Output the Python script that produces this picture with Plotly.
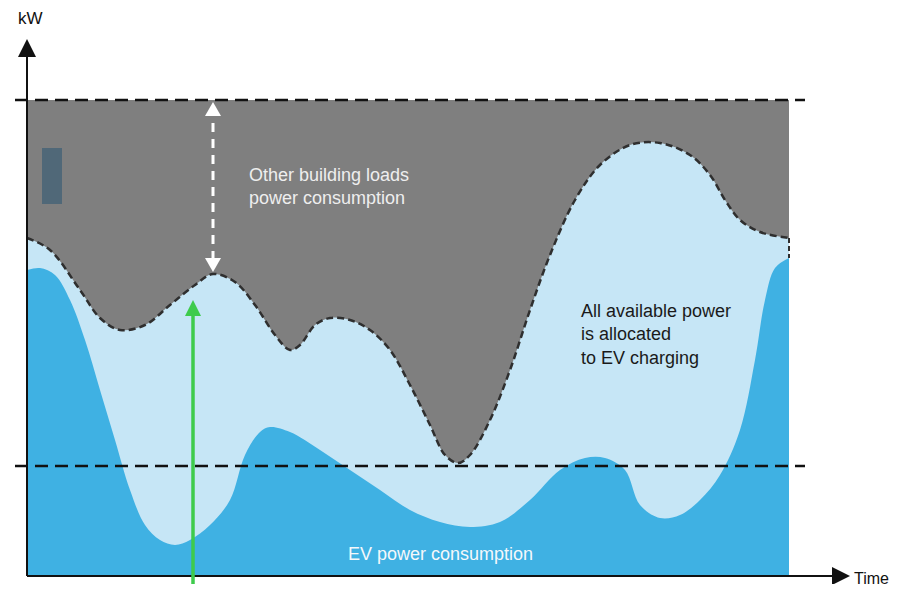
import plotly.graph_objects as go

# ---- data (time in arbitrary units, power in kW-like units) ----
time = [0, 23, 53, 73, 93, 118, 143, 168, 186, 208, 228, 248, 263, 273, 288, 303, 323, 343,
        363, 383, 403, 418, 431, 443, 463, 483, 503, 523, 548, 573, 603, 633, 663, 683, 698,
        713, 733, 762]
available_kw = [338, 326, 286, 258, 246, 251, 271, 291, 302, 294, 271, 241, 226, 231, 251,
                258, 256, 246, 226, 191, 151, 121, 113, 121, 156, 206, 266, 321, 376, 411,
                431, 433, 421, 401, 376, 356, 344, 338]

ev_time = [0, 13, 28, 43, 58, 73, 88, 103, 118, 133, 148, 163, 183, 203, 218, 233, 243, 263,
           293, 323, 353, 383, 413, 443, 473, 503, 533, 558, 578, 598, 613, 633, 653, 673,
           693, 713, 728, 738, 748, 762]
ev_kw = [306, 308, 301, 276, 236, 186, 136, 86, 51, 36, 31, 36, 51, 76, 121, 144, 149, 144,
         126, 106, 86, 66, 54, 49, 54, 76, 106, 118, 118, 106, 71, 58, 61, 76, 101, 146, 216,
         276, 308, 318]

grid_limit_kw = 476
min_level_kw = 110
t_end = 762

font = "Arial, 'Liberation Sans', sans-serif"
GRAY = "#7f7f7f"
LIGHT = "#c6e6f6"
BLUE = "#3fb1e3"

fig = go.Figure()
# building loads (gray) up to grid limit
fig.add_trace(go.Scatter(x=[0, t_end], y=[grid_limit_kw, grid_limit_kw], mode="lines",
                         line=dict(width=0), fill="tozeroy", fillcolor=GRAY, hoverinfo="skip"))
# available power (light blue)
fig.add_trace(go.Scatter(x=time, y=available_kw, mode="lines", line=dict(width=0, shape="spline", smoothing=1.0),
                         fill="tozeroy", fillcolor=LIGHT, hoverinfo="skip"))
# EV power consumption
fig.add_trace(go.Scatter(x=ev_time, y=ev_kw, mode="lines", line=dict(width=0, shape="spline", smoothing=1.0),
                         fill="tozeroy", fillcolor=BLUE, hoverinfo="skip"))
# dashed boundary curve
fig.add_trace(go.Scatter(x=time, y=available_kw, mode="lines",
                         line=dict(color="#2f2f2f", width=2.5, dash="7px,4px", shape="spline", smoothing=1.0),
                         hoverinfo="skip"))
# right edge dashed
fig.add_trace(go.Scatter(x=[t_end, t_end], y=[available_kw[-1], ev_kw[-1]], mode="lines",
                         line=dict(color="#2f2f2f", width=2, dash="5px,3px"), hoverinfo="skip"))

# horizontal dashed reference lines
for lvl in (grid_limit_kw, min_level_kw):
    fig.add_trace(go.Scatter(x=[-12, 778], y=[lvl, lvl], mode="lines",
                             line=dict(color="#111111", width=2.5, dash="13px,7px"), hoverinfo="skip"))

shapes = []
# axes
shapes.append(dict(type="line", x0=0, x1=0, y0=0, y1=522, line=dict(color="#111", width=2)))
shapes.append(dict(type="line", x0=0, x1=808, y0=0, y1=0, line=dict(color="#111", width=2)))
shapes.append(dict(type="path", path="M -9,519 L 9,519 L 0,537 Z", fillcolor="#111", line=dict(width=0)))
shapes.append(dict(type="path", path="M 805,-9 L 805,9 L 823,0 Z", fillcolor="#111", line=dict(width=0)))
# small dark marker rectangle
shapes.append(dict(type="rect", x0=15, x1=35, y0=372, y1=428, fillcolor="#506878", line=dict(width=0)))
# white dashed double arrow
peak_t = 186
peak_kw = 302
shapes.append(dict(type="line", x0=peak_t, x1=peak_t, y0=peak_kw + 14, y1=grid_limit_kw - 14,
                   line=dict(color="white", width=3, dash="9px,7px")))
shapes.append(dict(type="path", path=f"M {peak_t-8},{grid_limit_kw-16} L {peak_t+8},{grid_limit_kw-16} L {peak_t},{grid_limit_kw-2} Z",
                   fillcolor="white", line=dict(width=0)))
shapes.append(dict(type="path", path=f"M {peak_t-8},{peak_kw+16} L {peak_t+8},{peak_kw+16} L {peak_t},{peak_kw+2} Z",
                   fillcolor="white", line=dict(width=0)))
# green arrow
gx = 166
shapes.append(dict(type="line", x0=gx, x1=gx, y0=-10, y1=262, line=dict(color="#3ecb4c", width=3.5)))
shapes.append(dict(type="path", path=f"M {gx-8},260 L {gx+8},260 L {gx},276 Z",
                   fillcolor="#3ecb4c", line=dict(width=0)))

annotations = [
    dict(x=-11, y=558, text="kW", xanchor="left", yanchor="middle", font=dict(size=17, color="#111", family=font)),
    dict(x=825, y=-2, text="Time", xanchor="left", yanchor="middle", font=dict(size=16, color="#111", family=font)),
    dict(x=220, y=390, text="Other building loads<br>power consumption", xanchor="left", yanchor="middle",
         align="left", font=dict(size=18, color="#eeeeee", family=font)),
    dict(x=552, y=242, text="All available power<br>is allocated<br>to EV charging", xanchor="left",
         yanchor="middle", align="left", font=dict(size=18, color="#1a1a1a", family=font)),
    dict(x=413, y=22, text="EV power consumption", xanchor="center", yanchor="middle",
         font=dict(size=18, color="#f4f8fb", family=font)),
]
for a in annotations:
    a.update(xref="x", yref="y", showarrow=False)

fig.update_layout(
    shapes=shapes, annotations=annotations,
    width=891, height=576, margin=dict(l=0, r=0, t=0, b=0),
    paper_bgcolor="white", plot_bgcolor="white", showlegend=False,
    font=dict(family=font),
    xaxis=dict(range=[-19, 872], visible=False, fixedrange=True),
    yaxis=dict(range=[-8, 568], visible=False, fixedrange=True),
)
fig.write_html("out.html", config={"displayModeBar": False})
